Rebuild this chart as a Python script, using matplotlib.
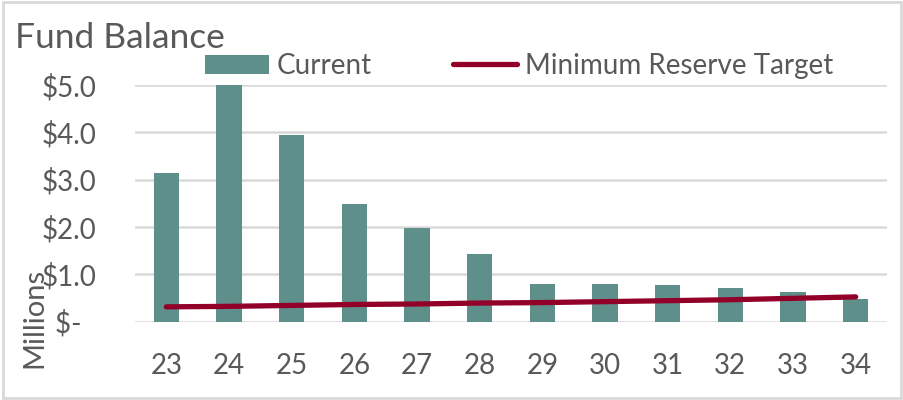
import numpy as np
import matplotlib
matplotlib.use("Agg")
import matplotlib.pyplot as plt
from matplotlib.patches import Rectangle

# Fund balance (millions of $) by year
years = ["23", "24", "25", "26", "27", "28", "29", "30", "31", "32", "33", "34"]
current = [3.14, 5.0, 3.94, 2.48, 1.98, 1.43, 0.80, 0.80, 0.77, 0.71, 0.62, 0.47]
min_reserve = [0.31, 0.32, 0.34, 0.36, 0.37, 0.39, 0.40, 0.42, 0.44, 0.46, 0.49, 0.52]
yticks = [0, 1, 2, 3, 4, 5]
ylabels = ["$-  ", "$1.0", "$2.0", "$3.0", "$4.0", "$5.0"]

bar_color = "#5f8f8b"
line_color = "#920029"
text_color = "#595959"
grid_color = "#d9d9d9"

plt.rcParams["font.family"] = ["Lato", "DejaVu Sans"]

fig = plt.figure(figsize=(9.04, 4.0), dpi=100)
ax = fig.add_axes([135/904, 1 - 321.5/400, (887 - 135)/904, (321.5 - 85)/400])

x = np.arange(len(years))
bars = ax.bar(x, current, width=0.4, color=bar_color, label="Current", zorder=2)
line, = ax.plot(x, min_reserve, color=line_color, lw=3.8, solid_capstyle="round",
                label="Minimum Reserve Target", zorder=3)

ax.set_xlim(-0.5, len(years) - 0.5)
ax.set_ylim(0, 5)
ax.set_xticks(x)
ax.set_xticklabels(years)
ax.set_yticks(yticks)
ax.set_yticklabels(ylabels)
ax.tick_params(axis="both", length=0, labelsize=20, colors=text_color)
ax.tick_params(axis="x", pad=23)
ax.tick_params(axis="y", pad=28)
ax.grid(axis="y", color=grid_color, lw=1.8, zorder=0)
for s in ax.spines.values():
    s.set_visible(False)

fig.text(15/904, 1 - 38/400, "Fund Balance", fontsize=25.5, color=text_color,
         ha="left", va="center")
fig.text(34/904, 1 - 318/400, "Millions", fontsize=21, color=text_color,
         rotation=90, ha="center", va="center")

leg = fig.legend([bars, line], ["Current", "Minimum Reserve Target"],
                 loc="center", bbox_to_anchor=(519/904, 1 - 66/400), ncol=2,
                 frameon=False, fontsize=20, handlelength=2.3, handletextpad=0.3,
                 columnspacing=2.9, labelcolor=text_color)

fig.patches.append(Rectangle((0.003, 0.005), 0.994, 0.99, transform=fig.transFigure,
                             fill=False, edgecolor=grid_color, lw=2))

fig.savefig("out.png", dpi=100)
